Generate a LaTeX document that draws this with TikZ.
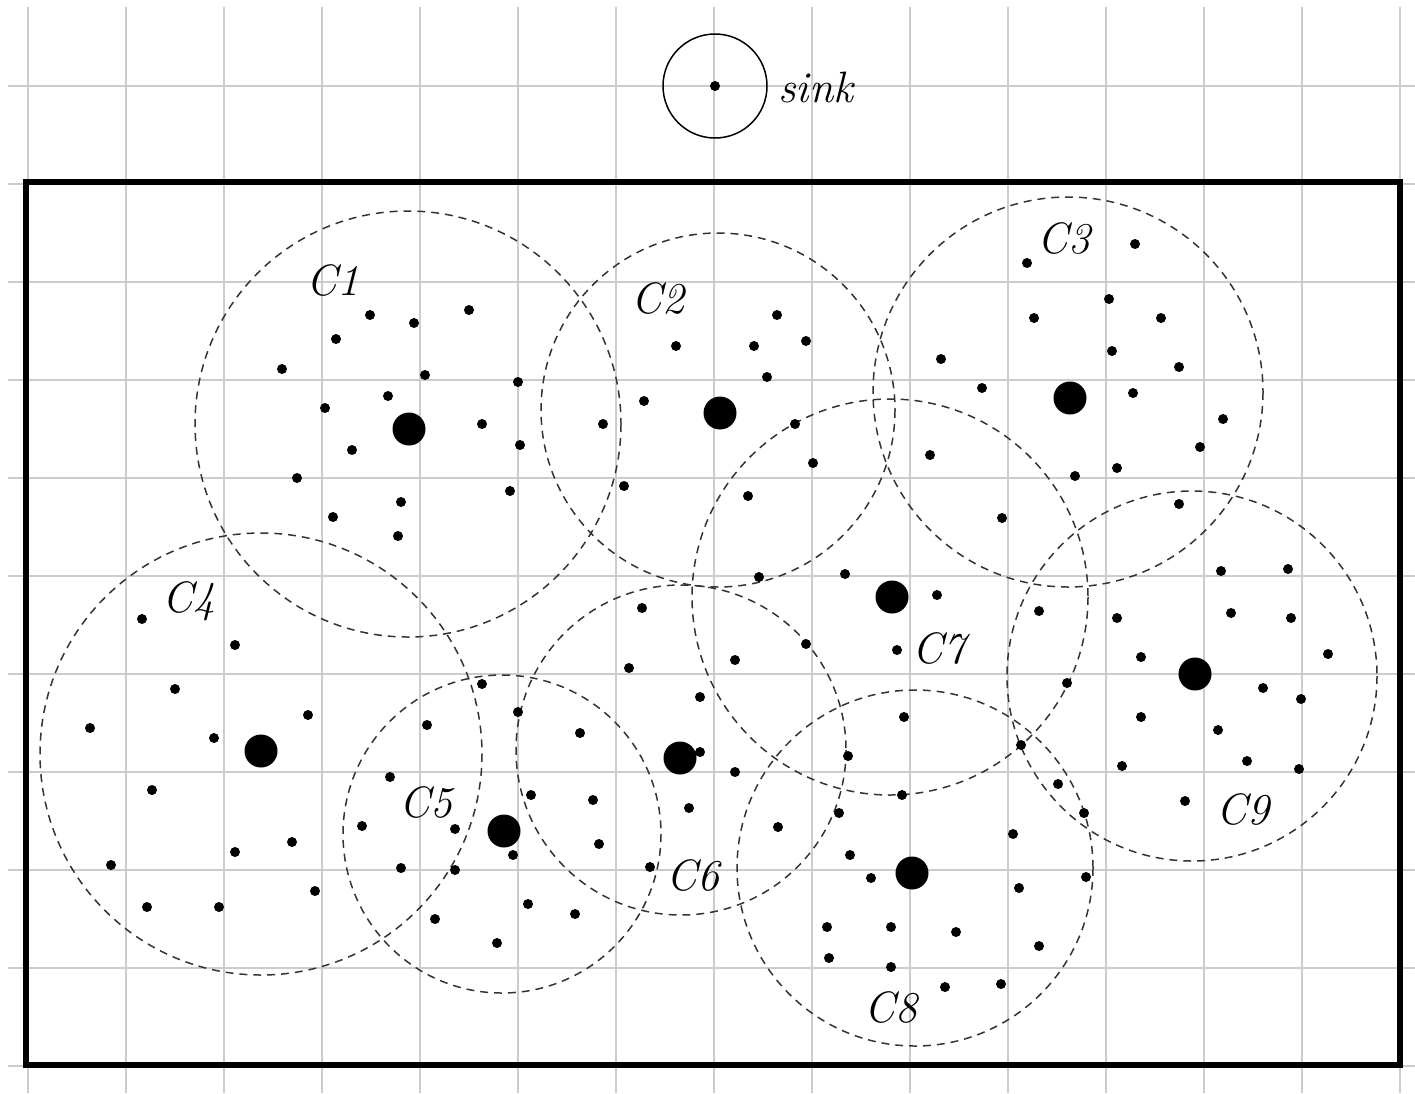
\documentclass[tikz,border=0pt]{standalone}
\begin{document}
\begin{tikzpicture}[x=0.02cm,y=-0.02cm,
  gridline/.style={draw=black!20,line width=1.1pt},
  fieldframe/.style={draw=black,line width=3.4pt,line join=miter},
  clusterrange/.style={draw=black!80,line width=0.85pt,dash pattern=on 4.5pt off 3.4pt},
  sensordot/.style={fill=black},
  clusterlbl/.style={font=\fontsize{25}{30}\selectfont\itshape,inner sep=0pt,anchor=base west}]
\useasboundingbox[fill=white] (0,0) rectangle (1415,1093);
% grid
\foreach \k in {0,...,14} \draw[gridline] ({28+98*\k},7) -- ({28+98*\k},1093);
\foreach \k in {0,...,10} \draw[gridline] (8,{86+98*\k}) -- (1415,{86+98*\k});
% sink
\draw[line width=0.85pt] (715,86) circle[radius=52];
\fill (715,86) circle[radius=5];
\node[clusterlbl] (sink) at (778,102) {sink};
% field
\draw[fieldframe] (26,182) rectangle (1400,1065);
% cluster ranges
\foreach \cx/\cy/\r in {408/424/213, 718/410/177, 1068/392/195, 261/754/221, 502/834/159, 681/750/165, 890/597/198, 915/868/178, 1192/676/185}
  \draw[clusterrange] (\cx,\cy) circle[radius=\r];
% sensor nodes
\foreach \p in {
 (370,315),(414,323),(469,310),(336,339),(282,369),(425,375),(518,382),(388,396),(325,408),(482,424),(352,450),(520,445),(297,478),(510,491),(401,502),(333,517),(398,536),
 (777,315),(676,346),(754,346),(806,341),(767,377),(644,401),(603,424),(795,424),(624,486),(748,496),
 (1135,244),(1027,263),(1109,299),(1034,318),(1161,318),(1112,351),(1179,367),(941,359),(982,388),(1133,393),(1223,419),(1200,447),(1117,468),(1075,476),(1179,504),
 (930,455),(813,463),(1002,518),(845,574),(759,577),(937,595),(897,650),
 (1221,571),(1288,569),(1039,611),(1117,618),(1231,613),(1291,618),(1141,657),(1328,654),(1067,683),(1263,688),(1301,699),(1141,717),(1218,730),(1021,745),(1122,766),(1247,761),(1299,769),(1058,784),(1185,801),(1084,813),(1086,877),
 (142,619),(235,645),(175,689),(308,715),(90,728),(214,738),(152,790),(292,842),(235,852),(111,865),(315,891),(147,907),(219,907),
 (482,684),(427,725),(390,777),(362,826),(455,829),(401,868),(455,870),(435,919),(497,943),(513,855),(528,904),(575,914),
 (642,608),(629,668),(735,660),(806,644),(518,712),(700,697),(580,733),(735,772),(531,795),(593,800),(689,808),(599,844),(650,867),(700,752),
 (904,717),(848,756),(902,795),(839,813),(778,827),(1013,834),(850,855),(871,878),(1019,888),(827,927),(891,927),(956,932),(1039,946),(829,958),(891,967),(945,987),(1001,984)}
  \fill[sensordot] \p circle[radius=5];
% cluster heads
\foreach \p in {(409,429),(720,413),(1070,398),(261,751),(504,831),(680,758),(892,597),(912,873),(1195,674)}
  \fill[sensordot] \p circle[radius=16.5];
% labels
\node[clusterlbl] (c1) at (306,295) {C1};
\node[clusterlbl] (c2) at (631,313) {C2};
\node[clusterlbl] (c3) at (1037,253) {C3};
\node[clusterlbl] (c4) at (162,612) {C4};
\node[clusterlbl] (c5) at (399,817) {C5};
\node[clusterlbl] (c6) at (666,890) {C6};
\node[clusterlbl] (c7) at (912,663) {C7};
\node[clusterlbl] (c8) at (864,1022) {C8};
\node[clusterlbl] (c9) at (1216,824) {C9};
\end{tikzpicture}
\end{document}
